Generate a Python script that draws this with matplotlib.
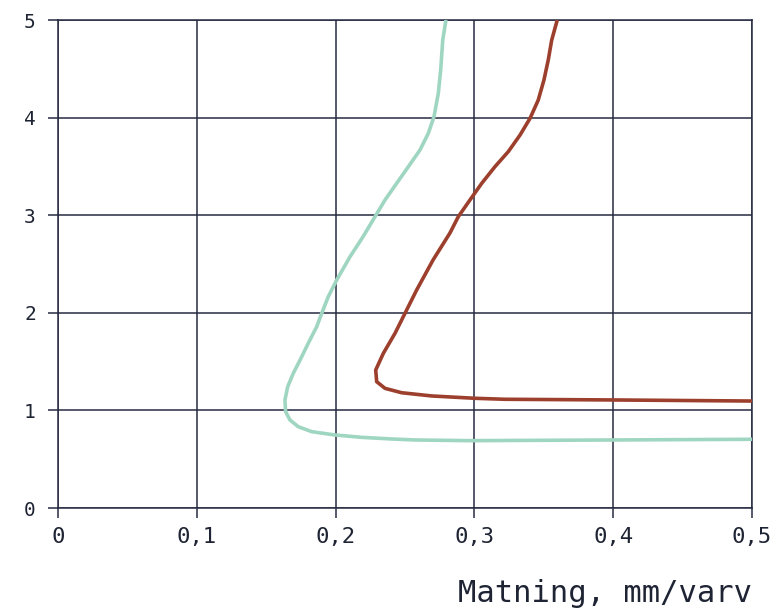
import matplotlib
matplotlib.use("Agg")
import matplotlib.pyplot as plt
from matplotlib.ticker import FuncFormatter

# curve points (feed mm/varv, value)
teal_x = [0.2795, 0.2772, 0.2757, 0.2740, 0.2709, 0.2668, 0.2608, 0.2524, 0.2440,
          0.2356, 0.2284, 0.2198, 0.2104, 0.2008, 0.1947, 0.1900, 0.1864, 0.1803,
          0.1744, 0.1695, 0.1655, 0.1635, 0.1640, 0.1671, 0.1731, 0.1828, 0.1996,
          0.2188, 0.2404, 0.2572, 0.2968, 0.4000, 0.5000]
teal_y = [5.000, 4.795, 4.488, 4.249, 4.010, 3.839, 3.668, 3.497, 3.327,
          3.156, 2.985, 2.780, 2.575, 2.336, 2.165, 1.995, 1.858, 1.688,
          1.516, 1.380, 1.243, 1.107, 0.987, 0.902, 0.833, 0.782, 0.748,
          0.724, 0.707, 0.697, 0.690, 0.697, 0.704]

red_x = [0.3597, 0.3557, 0.3532, 0.3501, 0.3460, 0.3401, 0.3329, 0.3244, 0.3148,
         0.3053, 0.2968, 0.2884, 0.2824, 0.2702, 0.2584, 0.2500, 0.2428, 0.2344,
         0.2289, 0.2296, 0.2356, 0.2476, 0.2692, 0.3004, 0.3220, 0.4000, 0.5000]
red_y = [5.000, 4.795, 4.590, 4.385, 4.180, 3.993, 3.822, 3.651, 3.497,
         3.327, 3.156, 2.985, 2.818, 2.541, 2.234, 1.995, 1.790, 1.585,
         1.414, 1.294, 1.226, 1.181, 1.148, 1.124, 1.114, 1.107, 1.096]

x_ticks = [0, 0.1, 0.2, 0.3, 0.4, 0.5]
y_ticks = [0, 1, 2, 3, 4, 5]
x_label = "Matning, mm/varv"

grid_col = "#262b40"
text_col = "#1e2433"
teal = "#9fd6c1"
red = "#9c3f2d"

plt.rcParams["font.family"] = ["DejaVu Sans Mono"]

fig = plt.figure(figsize=(7.79, 6.12), dpi=100)
ax = fig.add_axes([58 / 779, 1 - 508 / 612, 694 / 779, 488 / 612])

ax.plot(teal_x, teal_y, color=teal, lw=2.6, zorder=3,
        solid_capstyle="butt", solid_joinstyle="round")
ax.plot(red_x, red_y, color=red, lw=2.6, zorder=3,
        solid_capstyle="butt", solid_joinstyle="round")

ax.set_xlim(0, 0.5)
ax.set_ylim(0, 5)
ax.set_xticks(x_ticks)
ax.set_yticks(y_ticks)

def comma(v, pos):
    s = "%g" % v
    return s.replace(".", ",")

ax.xaxis.set_major_formatter(FuncFormatter(comma))
ax.yaxis.set_major_formatter(FuncFormatter(comma))

ax.grid(True, color=grid_col, lw=1.1)
ax.set_axisbelow(True)
for s in ax.spines.values():
    s.set_color(grid_col)
    s.set_linewidth(1.1)

ax.tick_params(axis="both", direction="out", length=7, width=1.1, color=grid_col,
               labelcolor=text_col)
ax.tick_params(axis="x", labelsize=16, pad=7)
ax.tick_params(axis="y", labelsize=14, pad=9)

fig.text(752 / 779, 1 - 593 / 612, x_label, ha="right", va="center",
         fontsize=22, color=text_col)

fig.savefig("out.png", dpi=100)
